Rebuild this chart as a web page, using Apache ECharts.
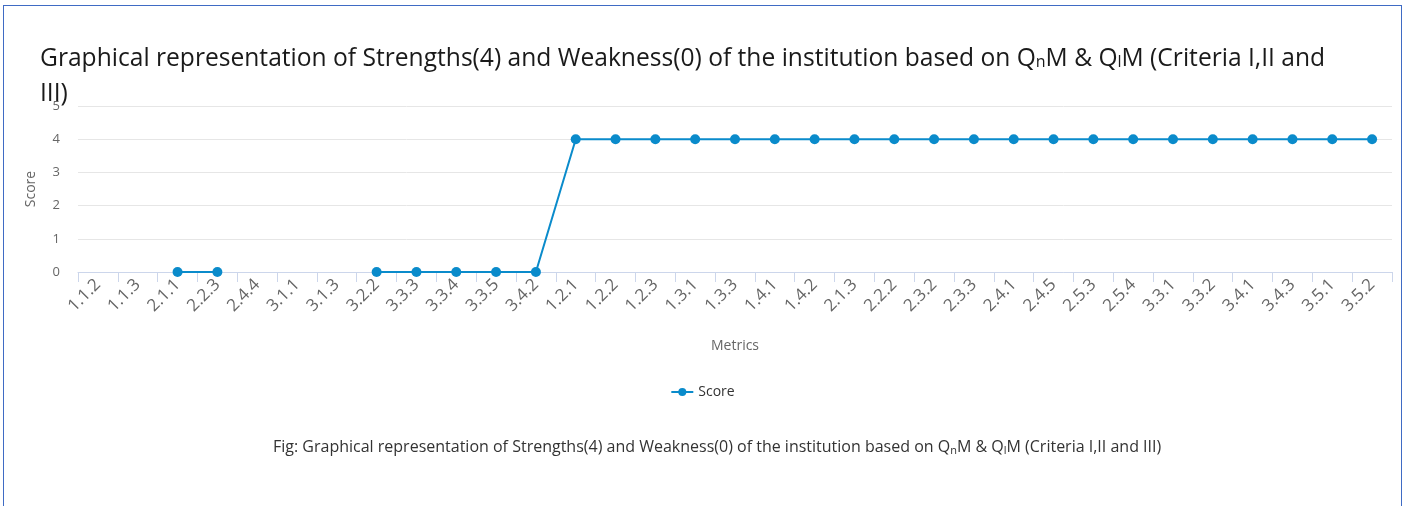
<!DOCTYPE html>
<html><head><meta charset="utf-8">
<script src="https://cdn.jsdelivr.net/npm/echarts@6/dist/echarts.min.js"></script>
<style>
html,body{margin:0;padding:0;background:#fff;}
#frame{position:absolute;left:3px;top:5px;width:1399px;height:520px;border:1px solid #3f6bc4;border-bottom:none;box-sizing:border-box;}
#chart{position:absolute;left:0;top:0;width:1405px;height:506px;}
</style></head>
<body>
<div id="frame"></div>
<div id="chart"></div>
<script>
const categories = ['1.1.2','1.1.3','2.1.1','2.2.3','2.4.4','3.1.1','3.1.3','3.2.2','3.3.3','3.3.4','3.3.5','3.4.2','1.2.1','1.2.2','1.2.3','1.3.1','1.3.3','1.4.1','1.4.2','2.1.3','2.2.2','2.3.2','2.3.3','2.4.1','2.4.5','2.5.3','2.5.4','3.3.1','3.3.2','3.4.1','3.4.3','3.5.1','3.5.2'];
const scores = [null,null,0,0,null,null,null,0,0,0,0,0,4,4,4,4,4,4,4,4,4,4,4,4,4,4,4,4,4,4,4,4,4];
const yTicks = {min:0, max:5, interval:1};
const FONT = '"Open Sans", "Liberation Sans", sans-serif';

const chart = echarts.init(document.getElementById('chart'), null, {renderer:'canvas'});
chart.setOption({
  animation:false,
  textStyle:{fontFamily:FONT},
  title:[{
    text:'Graphical representation of Strengths(4) and Weakness(0) of the institution based on Q{s|n}M & Q{s|l}M (Criteria I,II and\nIII)',
    left:35, top:36,
    textStyle:{fontFamily:FONT,fontSize:24.6,fontWeight:'normal',color:'#1a1a1a',lineHeight:35,
      rich:{s:{fontFamily:FONT,fontSize:16,color:'#1a1a1a',padding:[8,0,0,0],lineHeight:35}}}
  },{
    text:'Fig: Graphical representation of Strengths(4) and Weakness(0) of the institution based on Q{s|n}M & Q{s|l}M (Criteria I,II and III)',
    left:268, top:434,
    textStyle:{fontFamily:FONT,fontSize:16,fontWeight:'normal',color:'#333',
      rich:{s:{fontFamily:FONT,fontSize:11,color:'#333',padding:[6,0,0,0]}}}
  }],
  legend:{
    data:['Score'], left:'center', top:380,
    itemWidth:22, itemHeight:10,
    textStyle:{fontFamily:FONT,fontSize:14,color:'#333'}
  },
  grid:{left:78,right:13,top:106,bottom:234,containLabel:false},
  xAxis:{
    type:'category', data:categories, boundaryGap:true,
    name:'Metrics', nameLocation:'middle', nameGap:67,
    nameTextStyle:{fontFamily:FONT,fontSize:14,color:'#666'},
    axisLine:{lineStyle:{color:'#ccd6eb'}},
    axisTick:{show:true,length:10,lineStyle:{color:'#ccd6eb'}},
    axisLabel:{rotate:45,interval:0,fontSize:17,color:'#666',margin:10,fontFamily:FONT},
    splitLine:{show:false}
  },
  yAxis:{
    type:'value', min:yTicks.min, max:yTicks.max, interval:yTicks.interval,
    name:'Score', nameLocation:'middle', nameGap:40,
    nameTextStyle:{fontFamily:FONT,fontSize:14,color:'#666'},
    axisLine:{show:false}, axisTick:{show:false},
    axisLabel:{fontSize:13,color:'#666',margin:18,fontFamily:FONT},
    splitLine:{lineStyle:{color:'#e6e6e6'}}
  },
  series:[{
    name:'Score', type:'line', data:scores,
    connectNulls:false,
    symbol:'circle', symbolSize:10,
    lineStyle:{width:2,color:'#0a8bcb'},
    itemStyle:{color:'#0a8bcb'}
  }]
});
</script>
</body></html>
